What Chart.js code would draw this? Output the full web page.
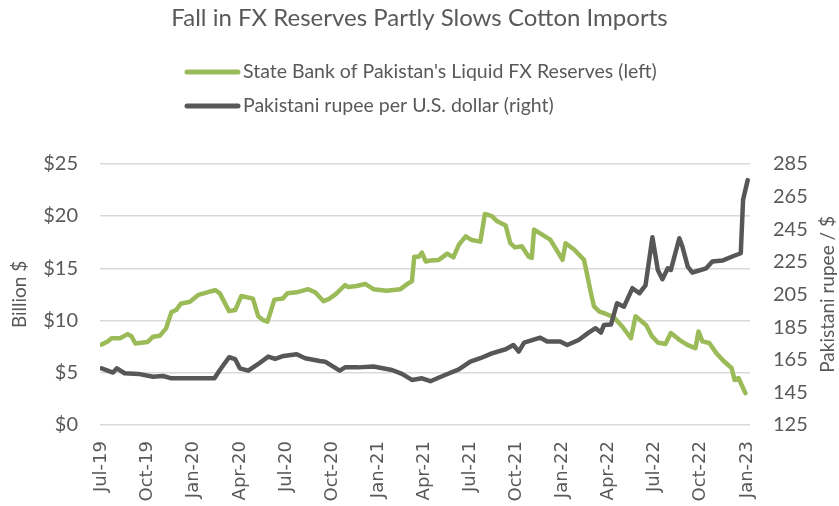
<!DOCTYPE html>
<html>
<head>
<meta charset="utf-8">
<script src="https://cdn.jsdelivr.net/npm/chart.js@4"></script>
<style>
  html, body { margin: 0; padding: 0; background: #fff; }
  #wrap { width: 839px; height: 506px; }
</style>
</head>
<body>
<div id="wrap"><canvas id="chart" width="839" height="506"></canvas></div>
<script>
// Axis labels (one every 3 months, x = months since Jul-19)
const quarterLabels = ['Jul-19', 'Oct-19', 'Jan-20', 'Apr-20', 'Jul-20', 'Oct-20', 'Jan-21', 'Apr-21',
    'Jul-21', 'Oct-21', 'Jan-22', 'Apr-22', 'Jul-22', 'Oct-22', 'Jan-23'];

// SBP liquid FX reserves, billion $ (left axis)
const fxMonths = [0, 0.4, 0.65, 1.2, 1.7, 1.95, 2.2, 3.0, 3.35, 3.8, 4.2, 4.55, 4.85, 5.15, 5.75, 6.3, 7.0,
    7.4, 7.7, 8.3, 8.7, 9.1, 9.85, 10.2, 10.5, 10.8, 11.25, 11.8, 12.1, 12.7, 13.45, 13.9, 14.45, 14.85,
    15.3, 15.85, 16.05, 16.6, 17.15, 17.7, 18.55, 19.45, 20.0, 20.2, 20.35, 20.65, 20.85, 21.1, 21.4,
    21.95, 22.5, 22.9, 23.25, 23.7, 24.1, 24.65, 24.95, 25.4, 25.75, 26.3, 26.6, 26.9, 27.35, 27.8, 28.0,
    28.15, 28.7, 29.2, 29.55, 30.0, 30.2, 30.75, 31.4, 31.6, 31.85, 32.05, 32.4, 32.8, 33.35, 33.9, 34.45,
    34.75, 35.2, 35.45, 35.8, 36.2, 36.7, 37.05, 37.6, 38.15, 38.65, 38.85, 39.1, 39.55, 40.0, 40.5, 41.0,
    41.2, 41.45, 41.9];
const fxReserves = [7.7, 8.0, 8.3, 8.3, 8.7, 8.5, 7.8, 7.95, 8.45, 8.55, 9.25, 10.8, 11.0, 11.6, 11.8, 12.45, 12.75,
    12.9, 12.6, 10.9, 11.0, 12.35, 12.1, 10.4, 10.05, 9.9, 12.0, 12.1, 12.6, 12.7, 13.0, 12.7, 11.85, 12.1,
    12.6, 13.4, 13.2, 13.3, 13.5, 13.0, 12.85, 13.0, 13.6, 13.75, 16.1, 16.1, 16.5, 15.65, 15.75,
    15.8, 16.4, 16.05, 17.25, 18.05, 17.7, 17.55, 20.2, 20.0, 19.5, 19.1, 17.4, 17.0, 17.1, 16.1, 16.0,
    18.7, 18.2, 17.75, 16.9, 15.8, 17.4, 16.8, 15.8, 14.4, 12.6, 11.35, 10.85, 10.65, 10.3, 9.4, 8.3,
    10.4, 9.85, 9.55, 8.55, 7.9, 7.75, 8.8, 8.15, 7.65, 7.35, 8.95, 8.0, 7.85, 6.9, 6.1, 5.45,
    4.3, 4.5, 3.05];

// Pakistani rupee per U.S. dollar (right axis)
const pkrMonths = [0, 0.4, 0.75, 1.0, 1.5, 2.4, 3.35, 4.0, 4.55, 7.35, 7.7, 8.3, 8.7, 9.0, 9.55, 10.2, 10.85,
    11.3, 11.85, 12.7, 13.25, 14.2, 14.55, 15.5, 15.85, 16.7, 17.7, 18.9, 19.55, 20.2, 20.85, 21.4, 22.35,
    23.25, 24.0, 24.65, 25.4, 26.3, 26.8, 27.15, 27.5, 28.55, 29.0, 29.85, 30.3, 31.05, 31.7, 32.15, 32.5,
    32.7, 33.15, 33.55, 34.0, 34.55, 35.0, 35.4, 35.85, 36.2, 36.5, 36.85, 37.05, 37.6, 37.8, 38.15, 38.45,
    39.35, 39.75, 40.4, 41.05, 41.6, 41.75, 42.05];
const pkrPerUsd = [159.7, 158.3, 157.1, 159.7, 156.7, 156.3, 154.6, 155, 153.6, 153.6, 158.7, 166.5, 165.3, 159.7, 158.3, 162.4, 166.9,
    165.5, 167.3, 168.3, 165.9, 164.2, 163.8, 158.3, 160.3, 160.3, 160.8, 158.7, 156.3, 152.6, 153.6, 151.8, 155.6,
    159.1, 163.8, 165.9, 168.9, 171.4, 174, 170, 175.5, 178.5, 176.1, 176.1, 174, 177.1, 181.6, 184.3, 181.6,
    186.3, 186.5, 199.6, 197.5, 208.8, 205.7, 210.5, 240, 220, 214.3, 221, 220, 239.4, 234.3, 222, 218.4,
    221, 225.1, 225.7, 228.2, 230.2, 263, 275];

const textColor = '#595959';
const green = '#9BBB59';
const grey = '#575757';

// Legend drawn as two left-aligned rows, right axis title reading bottom-to-top
const extrasPlugin = {
    id: 'extras',
    afterDraw(chart) {
        const ctx = chart.ctx;
        ctx.save();
        ctx.font = '19.5px Lato';
        ctx.fillStyle = textColor;
        ctx.textBaseline = 'middle';
        ctx.textAlign = 'left';
        const rowsY = [72, 106];
        chart.data.datasets.forEach((ds, i) => {
            const y = rowsY[i];
            ctx.strokeStyle = ds.borderColor;
            ctx.lineWidth = 5;
            ctx.lineCap = 'round';
            ctx.beginPath();
            ctx.moveTo(187, y);
            ctx.lineTo(238, y);
            ctx.stroke();
            ctx.fillText(ds.label, 243, y);
        });
        const area = chart.chartArea;
        ctx.font = '19px Lato';
        ctx.translate(828, (area.top + area.bottom) / 2);
        ctx.rotate(-Math.PI / 2);
        ctx.textAlign = 'center';
        ctx.fillText('Pakistani rupee / $', 0, 0);
        ctx.restore();
    }
};

new Chart(document.getElementById('chart'), {
    type: 'line',
    data: {
        datasets: [{
            label: "State Bank of Pakistan's Liquid FX Reserves (left)",
            data: fxMonths.map((m, i) => ({ x: m, y: fxReserves[i] })),
            borderColor: green,
            backgroundColor: green,
            borderWidth: 4.5,
            yAxisID: 'y',
            order: 1,
        }, {
            label: 'Pakistani rupee per U.S. dollar (right)',
            data: pkrMonths.map((m, i) => ({ x: m, y: pkrPerUsd[i] })),
            borderColor: grey,
            backgroundColor: grey,
            borderWidth: 4.5,
            yAxisID: 'y2',
            order: 0,
        }],
    },
    options: {
        responsive: false,
        animation: false,
        events: [],
        layout: { padding: 0 },
        elements: {
            point: { radius: 0 },
            line: { tension: 0, borderCapStyle: 'round', borderJoinStyle: 'round' },
        },
        plugins: {
            legend: { display: false },
            tooltip: { enabled: false },
            title: {
                display: true,
                text: 'Fall in FX Reserves Partly Slows Cotton Imports',
                color: textColor,
                font: { family: 'Lato', size: 24, weight: 'normal' },
                padding: { top: 4, bottom: 131 },
            },
        },
        scales: {
            x: {
                type: 'linear',
                min: -0.1,
                max: 42.2,
                afterBuildTicks: (scale) => {
                    scale.ticks = quarterLabels.map((_, i) => ({ value: i * 3 }));
                },
                afterFit: (scale) => { scale.height = 81; },
                ticks: {
                    autoSkip: false,
                    minRotation: 90,
                    maxRotation: 90,
                    padding: 8,
                    color: textColor,
                    font: { family: 'DejaVu Sans', size: 18 },
                    callback: (v) => quarterLabels[Math.round(v / 3)],
                },
                grid: { display: false },
                border: { display: false },
            },
            y: {
                position: 'left',
                min: 0,
                max: 25,
                afterFit: (scale) => { scale.width = 100; },
                ticks: {
                    stepSize: 5,
                    padding: 22,
                    color: textColor,
                    font: { family: 'Lato', size: 20 },
                    callback: (v) => '$' + v,
                },
                grid: { color: '#D9D9D9', lineWidth: 1.5, drawTicks: false },
                border: { display: false },
                title: {
                    display: true,
                    text: 'Billion $',
                    color: textColor,
                    font: { family: 'Lato', size: 19 },
                    padding: { top: 8, bottom: 0 },
                },
            },
            y2: {
                position: 'right',
                min: 125,
                max: 285,
                afterFit: (scale) => { scale.width = 89; },
                afterBuildTicks: (scale) => {
                    scale.ticks = [125, 145, 165, 185, 205, 225, 245, 265, 285].map((v) => ({ value: v }));
                },
                ticks: {
                    padding: 23,
                    color: textColor,
                    font: { family: 'Lato', size: 20 },
                },
                grid: { display: false, drawTicks: false },
                border: { display: false },
            },
        },
    },
    plugins: [extrasPlugin],
});
</script>
</body>
</html>
